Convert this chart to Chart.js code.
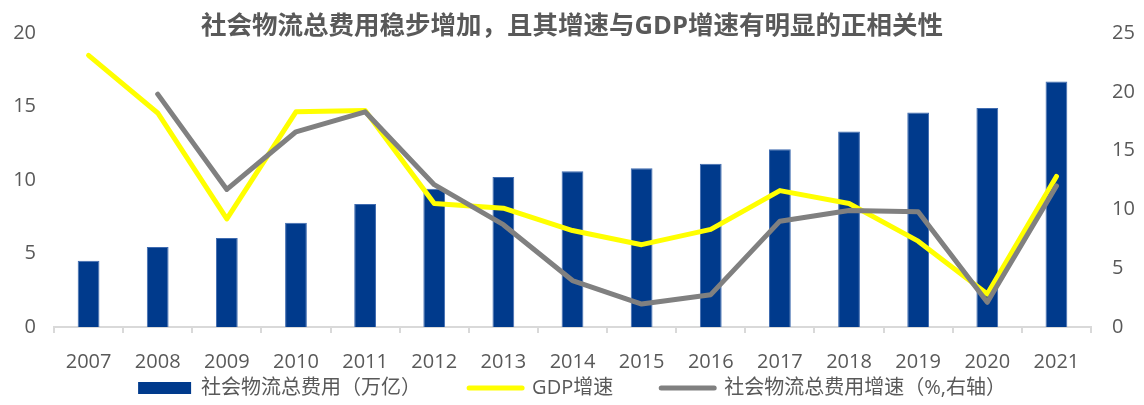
<!DOCTYPE html>
<html>
<head>
<meta charset="utf-8">
<script src="https://cdn.jsdelivr.net/npm/chart.js@4.4.1/dist/chart.umd.min.js"></script>
<style>
  html, body { margin: 0; padding: 0; background: #ffffff; }
  #wrap { width: 1144px; height: 405px; position: relative; }
</style>
</head>
<body>
<div id="wrap"><canvas id="c" width="1144" height="405"></canvas></div>
<script>
const titleText = '社会物流总费用稳步增加，且其增速与GDP增速有明显的正相关性';
const categories = ['2007','2008','2009','2010','2011','2012','2013','2014','2015','2016','2017','2018','2019','2020','2021'];
const logisticsCost = [4.5, 5.45, 6.05, 7.1, 8.37, 9.4, 10.2, 10.6, 10.8, 11.1, 12.1, 13.3, 14.6, 14.9, 16.7];
const gdpGrowth = [23.1, 18.2, 9.2, 18.3, 18.4, 10.5, 10.1, 8.2, 7.0, 8.3, 11.6, 10.5, 7.3, 2.8, 12.8];
const costGrowth = [null, 19.8, 11.7, 16.6, 18.3, 12.1, 8.7, 3.95, 1.95, 2.75, 9.0, 9.9, 9.8, 2.1, 12.0];
const seriesNames = ['社会物流总费用（万亿）', 'GDP增速', '社会物流总费用增速（%,右轴）'];
const leftTicks = [0, 5, 10, 15, 20];
const rightTicks = [0, 5, 10, 15, 20, 25];

const FONT = "'Open Sans', 'Noto Sans CJK SC', sans-serif";
const TEXT = '#595959';
const BAR = '#003A8C';
const YELLOW = '#FFFF00';
const GREY = '#808080';

new Chart(document.getElementById('c'), {
  data: {
    labels: categories,
    datasets: [
      {
        type: 'bar', label: seriesNames[0], data: logisticsCost, yAxisID: 'y',
        backgroundColor: BAR, borderColor: '#3F6BB0', borderWidth: 1,
        categoryPercentage: 1, barPercentage: 0.315, order: 3
      },
      {
        type: 'line', label: seriesNames[1], data: gdpGrowth, yAxisID: 'y1',
        borderColor: YELLOW, backgroundColor: YELLOW, borderWidth: 5,
        pointRadius: 0, tension: 0, borderCapStyle: 'round', borderJoinStyle: 'round', order: 2
      },
      {
        type: 'line', label: seriesNames[2], data: costGrowth, yAxisID: 'y1',
        borderColor: GREY, backgroundColor: GREY, borderWidth: 5,
        pointRadius: 0, tension: 0, borderCapStyle: 'round', borderJoinStyle: 'round', order: 1
      }
    ]
  },
  options: {
    responsive: false,
    animation: false,
    devicePixelRatio: 1,
    layout: { padding: { left: 0, right: 0, top: 0, bottom: -3 } },
    plugins: {
      tooltip: { enabled: false },
      title: {
        display: true, text: titleText, color: TEXT,
        font: { family: FONT, size: 25.5, weight: 'bold' },
        padding: { top: 7, bottom: -8.6 }
      },
      legend: {
        position: 'bottom',
        labels: {
          color: TEXT,
          font: { family: FONT, size: 20 },
          usePointStyle: true,
          pointStyleWidth: 53,
          boxHeight: 12,
          padding: 48,
          sort: (a, b) => a.datasetIndex - b.datasetIndex,
          generateLabels: (chart) => {
            const items = Chart.defaults.plugins.legend.labels.generateLabels(chart);
            items.forEach(it => {
              const ds = chart.data.datasets[it.datasetIndex];
              if (ds.type === 'bar') {
                it.pointStyle = 'rect';
                it.fillStyle = ds.backgroundColor;
                it.strokeStyle = ds.backgroundColor;
                it.lineWidth = 0;
              } else {
                it.pointStyle = 'line';
                it.strokeStyle = ds.borderColor;
                it.fillStyle = ds.borderColor;
                it.lineWidth = 5;
                it.lineCap = 'round';
              }
              it.fontColor = TEXT;
            });
            return items;
          }
        }
      }
    },
    scales: {
      x: {
        type: 'category',
        offset: true,
        grid: { display: true, offset: true, drawOnChartArea: false, drawTicks: true, tickLength: 6, color: '#D9D9D9', lineWidth: 2 },
        border: { display: true, color: '#D9D9D9', width: 2 },
        ticks: { color: TEXT, font: { family: FONT, size: 20 }, padding: -47.5, mirror: true, maxRotation: 0, autoSkip: false },
        afterFit: (s) => { s.height = 3; }
      },
      y: {
        type: 'linear', position: 'left', min: 0, max: 20,
        afterBuildTicks: (s) => { s.ticks = leftTicks.map(v => ({ value: v })); },
        grid: { display: false, drawTicks: false },
        border: { display: false },
        ticks: { color: TEXT, font: { family: FONT, size: 20 }, padding: 18 },
        afterFit: (s) => { s.width = 54; }
      },
      y1: {
        type: 'linear', position: 'right', min: 0, max: 25,
        afterBuildTicks: (s) => { s.ticks = rightTicks.map(v => ({ value: v })); },
        grid: { display: false, drawTicks: false },
        border: { display: false },
        ticks: { color: TEXT, font: { family: FONT, size: 20 }, padding: 21 },
        afterFit: (s) => { s.width = 53; }
      }
    }
  }
});
</script>
</body>
</html>
